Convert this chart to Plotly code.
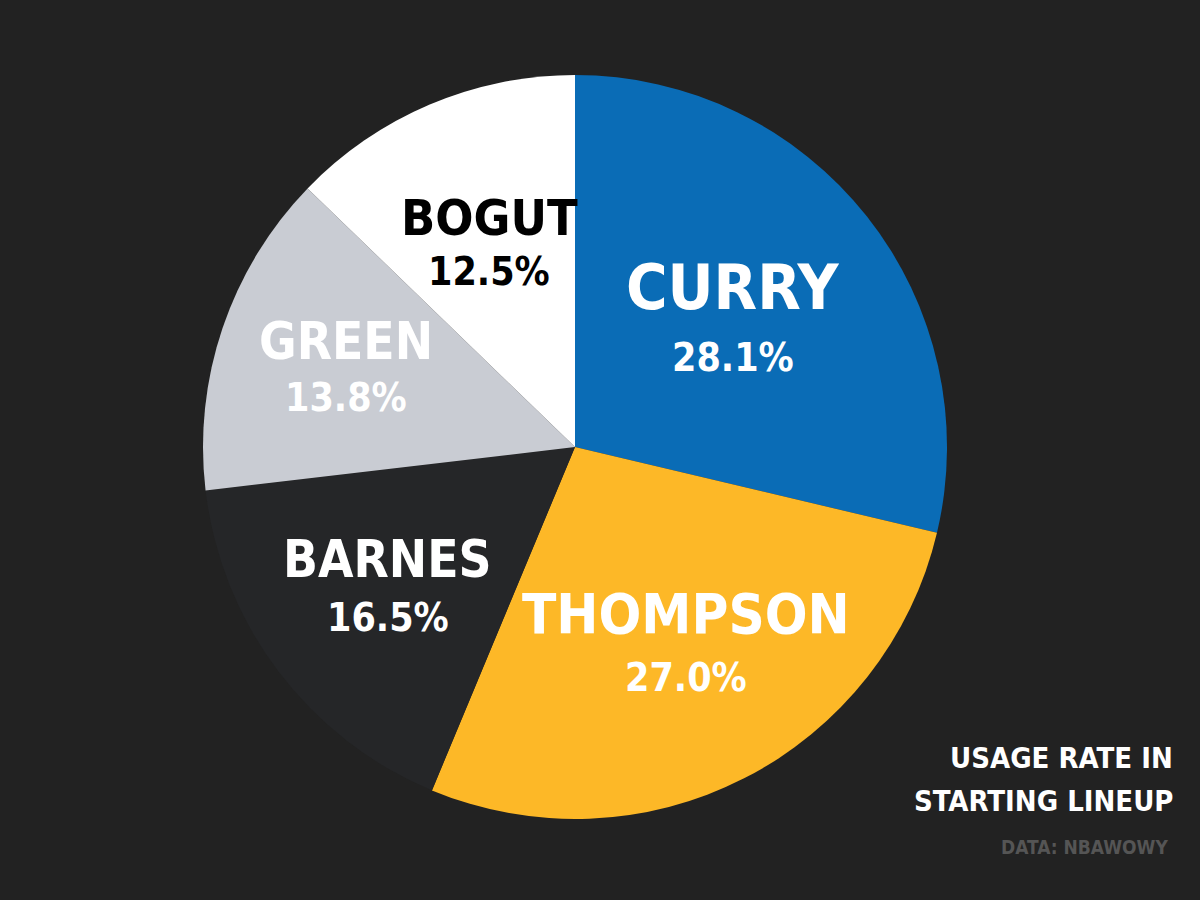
import math
import plotly.graph_objects as go

# Usage rate of the starting lineup
players = ["CURRY", "THOMPSON", "BARNES", "GREEN", "BOGUT"]
usage = [28.1, 27.0, 16.5, 13.8, 12.5]

slice_colors = ["#0a6cb6", "#fdb827", "#252628", "#c9ccd3", "#ffffff"]
text_colors = ["#ffffff", "#ffffff", "#ffffff", "#ffffff", "#000000"]
name_sizes = [63, 56, 51, 51, 50]
pct_size = 39
label_radius = [0.54, 0.60, 0.63, 0.65, 0.59]
label_sep = [70, 64, 58, 56, 54]
label_shift_x = [0, 10, 0, 0, 0]

W, H = 1200, 900
CX, CY, R = 575, 447, 372  # pie centre and radius in pixels
FONT = "DejaVu Sans Condensed, Liberation Sans Narrow, sans-serif"
BG = "#222222"

fig = go.Figure(
    go.Pie(
        labels=players,
        values=usage,
        sort=False,
        direction="clockwise",
        rotation=0,
        marker=dict(colors=slice_colors, line=dict(width=0)),
        textinfo="none",
        hoverinfo="label+value",
        showlegend=False,
        domain=dict(x=[(CX - R) / W, (CX + R) / W], y=[1 - (CY + R) / H, 1 - (CY - R) / H]),
    )
)

# Slice labels: name above, percentage below, placed along each slice's mid-angle
total = sum(usage)
cum = 0.0
annotations = []
for name, v, tc, ns, rf, sep, dx in zip(players, usage, text_colors, name_sizes,
                                        label_radius, label_sep, label_shift_x):
    mid = (cum + v / 2) / total * 2 * math.pi
    cum += v
    px = CX + rf * R * math.sin(mid) + dx
    py = CY - rf * R * math.cos(mid)
    annotations.append(dict(
        x=px / W, y=1 - (py - sep / 2) / H, xref="paper", yref="paper",
        text=f"<b>{name}</b>", showarrow=False, xanchor="center", yanchor="middle",
        font=dict(family=FONT, size=ns, color=tc),
    ))
    annotations.append(dict(
        x=px / W, y=1 - (py + sep / 2) / H, xref="paper", yref="paper",
        text=f"<b>{v:.1f}%</b>", showarrow=False, xanchor="center", yanchor="middle",
        font=dict(family=FONT, size=pct_size, color=tc),
    ))

# Caption in the lower right corner
for line, yc in [("USAGE RATE IN", 758), ("STARTING LINEUP", 801)]:
    annotations.append(dict(
        x=1175 / W, y=1 - yc / H, xref="paper", yref="paper",
        text=f"<b>{line}</b>", showarrow=False,
        xanchor="right", yanchor="middle", align="right",
        font=dict(family=FONT, size=29, color="#ffffff"),
    ))
annotations.append(dict(
    x=1170 / W, y=1 - 847 / H, xref="paper", yref="paper",
    text="<b>DATA: NBAWOWY</b>", showarrow=False,
    xanchor="right", yanchor="middle",
    font=dict(family=FONT, size=19, color="#555555"),
))

fig.update_layout(
    width=W, height=H,
    margin=dict(l=0, r=0, t=0, b=0),
    paper_bgcolor=BG, plot_bgcolor=BG,
    annotations=annotations,
)

fig.write_html("out.html")
